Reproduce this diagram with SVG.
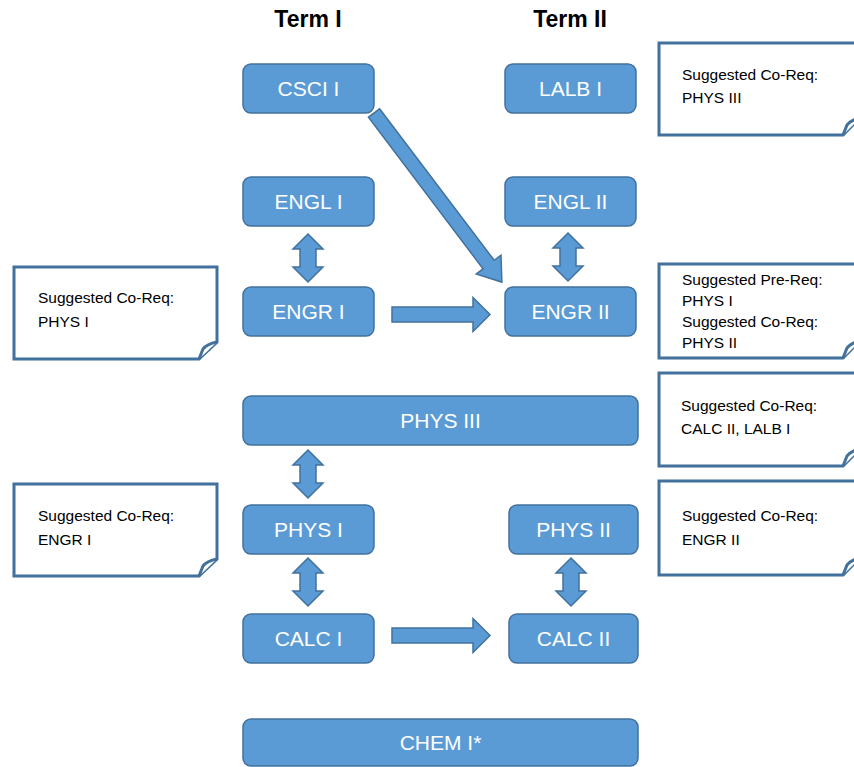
<svg xmlns="http://www.w3.org/2000/svg" width="854" height="767" viewBox="0 0 854 767">
<defs>
<style>
.node rect{fill:#5B9BD5;stroke:#41719C;stroke-width:1.5}
.node text{font-family:"Liberation Sans",Arial,sans-serif;font-size:21px;fill:#fff;text-anchor:middle}
.note path{fill:#fff;stroke:#41719C;stroke-width:3;stroke-linejoin:miter}
.note text{font-family:"Liberation Sans",Arial,sans-serif;font-size:15.5px;fill:#000}
.hdr{font-family:"Liberation Sans",Arial,sans-serif;font-size:23px;font-weight:bold;fill:#000;text-anchor:middle}
.arr{fill:#5B9BD5;stroke:#41719C;stroke-width:1.5;stroke-linejoin:miter}
</style>
<path id="dbl" d="M0,0 L15,15 L8,15 L8,33 L15,33 L0,48 L-15,33 L-8,33 L-8,15 L-15,15 Z"/>
<path id="rarr" d="M0,-7.5 L81,-7.5 L81,-17 L98,0 L81,17 L81,7.5 L0,7.5 Z"/>
</defs>
<rect width="854" height="767" fill="#fff"/>
<text class="hdr" x="308" y="27">Term I</text>
<text class="hdr" x="570" y="27">Term II</text>

<g id="connectors">
<path class="arr" transform="translate(374,113) rotate(52.9)" d="M0,-7 L190,-7 L190,-15.5 L212,0 L190,15.5 L190,7 L0,7 Z"/>
<use href="#rarr" class="arr" x="392" y="314.5"/>
<use href="#rarr" class="arr" x="392" y="635.5"/>
<use href="#dbl" class="arr" x="308" y="234"/>
<use href="#dbl" class="arr" x="568" y="233"/>
<use href="#dbl" class="arr" x="308" y="450"/>
<use href="#dbl" class="arr" x="308" y="558"/>
<use href="#dbl" class="arr" x="571" y="558"/>
</g>

<g id="csci1" class="node"><rect x="243" y="64" width="131" height="49" rx="8"/><text x="308.5" y="96">CSCI I</text></g>
<g id="lalb1" class="node"><rect x="505" y="64" width="131" height="49" rx="8"/><text x="570.5" y="96">LALB I</text></g>
<g id="engl1" class="node"><rect x="243" y="177" width="131" height="49" rx="8"/><text x="308.5" y="209">ENGL I</text></g>
<g id="engl2" class="node"><rect x="505" y="177" width="131" height="49" rx="8"/><text x="570.5" y="209">ENGL II</text></g>
<g id="engr1" class="node"><rect x="243" y="287" width="131" height="49" rx="8"/><text x="308.5" y="319">ENGR I</text></g>
<g id="engr2" class="node"><rect x="505" y="287" width="131" height="49" rx="8"/><text x="570.5" y="319">ENGR II</text></g>
<g id="phys3" class="node"><rect x="243" y="396" width="395" height="49" rx="8"/><text x="440.5" y="428">PHYS III</text></g>
<g id="phys1" class="node"><rect x="243" y="505" width="131" height="49" rx="8"/><text x="308.5" y="537">PHYS I</text></g>
<g id="phys2" class="node"><rect x="509" y="505" width="129" height="49" rx="8"/><text x="573.5" y="537">PHYS II</text></g>
<g id="calc1" class="node"><rect x="243" y="614" width="131" height="49" rx="8"/><text x="308.5" y="646">CALC I</text></g>
<g id="calc2" class="node"><rect x="509" y="614" width="129" height="49" rx="8"/><text x="573.5" y="646">CALC II</text></g>
<g id="chem1" class="node"><rect x="243" y="719" width="395" height="47" rx="8"/><text x="440.5" y="750">CHEM I*</text></g>

<g id="note-engr1" class="note">
<path d="M14,267 H217 V342 L199,359 H14 Z"/>
<path d="M199,359 L203,349 Q207,344 217,342"/>
<text x="38" y="303">Suggested Co-Req:</text><text x="38" y="327">PHYS I</text>
</g>
<g id="note-phys1" class="note">
<path d="M14,484 H217 V559 L199,576 H14 Z"/>
<path d="M199,576 L203,566 Q207,561 217,559"/>
<text x="38" y="521">Suggested Co-Req:</text><text x="38" y="545">ENGR I</text>
</g>
<g id="note-lalb1" class="note">
<path d="M659,43 H861 V117 L843,135 H659 Z"/>
<path d="M843,135 L847,125 Q851,120 861,117"/>
<text x="682" y="80">Suggested Co-Req:</text><text x="682" y="103">PHYS III</text>
</g>
<g id="note-engr2" class="note">
<path d="M659,264 H861 V340 L843,358 H659 Z"/>
<path d="M843,358 L847,348 Q851,343 861,340"/>
<text x="682" y="285">Suggested Pre-Req:</text><text x="682" y="306">PHYS I</text>
<text x="682" y="327">Suggested Co-Req:</text><text x="682" y="348">PHYS II</text>
</g>
<g id="note-phys3" class="note">
<path d="M659,373 H861 V448 L843,466 H659 Z"/>
<path d="M843,466 L847,456 Q851,451 861,448"/>
<text x="681" y="411">Suggested Co-Req:</text><text x="681" y="434">CALC II, LALB I</text>
</g>
<g id="note-phys2" class="note">
<path d="M659,481 H861 V557 L843,575 H659 Z"/>
<path d="M843,575 L847,565 Q851,560 861,557"/>
<text x="682" y="521">Suggested Co-Req:</text><text x="682" y="545">ENGR II</text>
</g>
</svg>
